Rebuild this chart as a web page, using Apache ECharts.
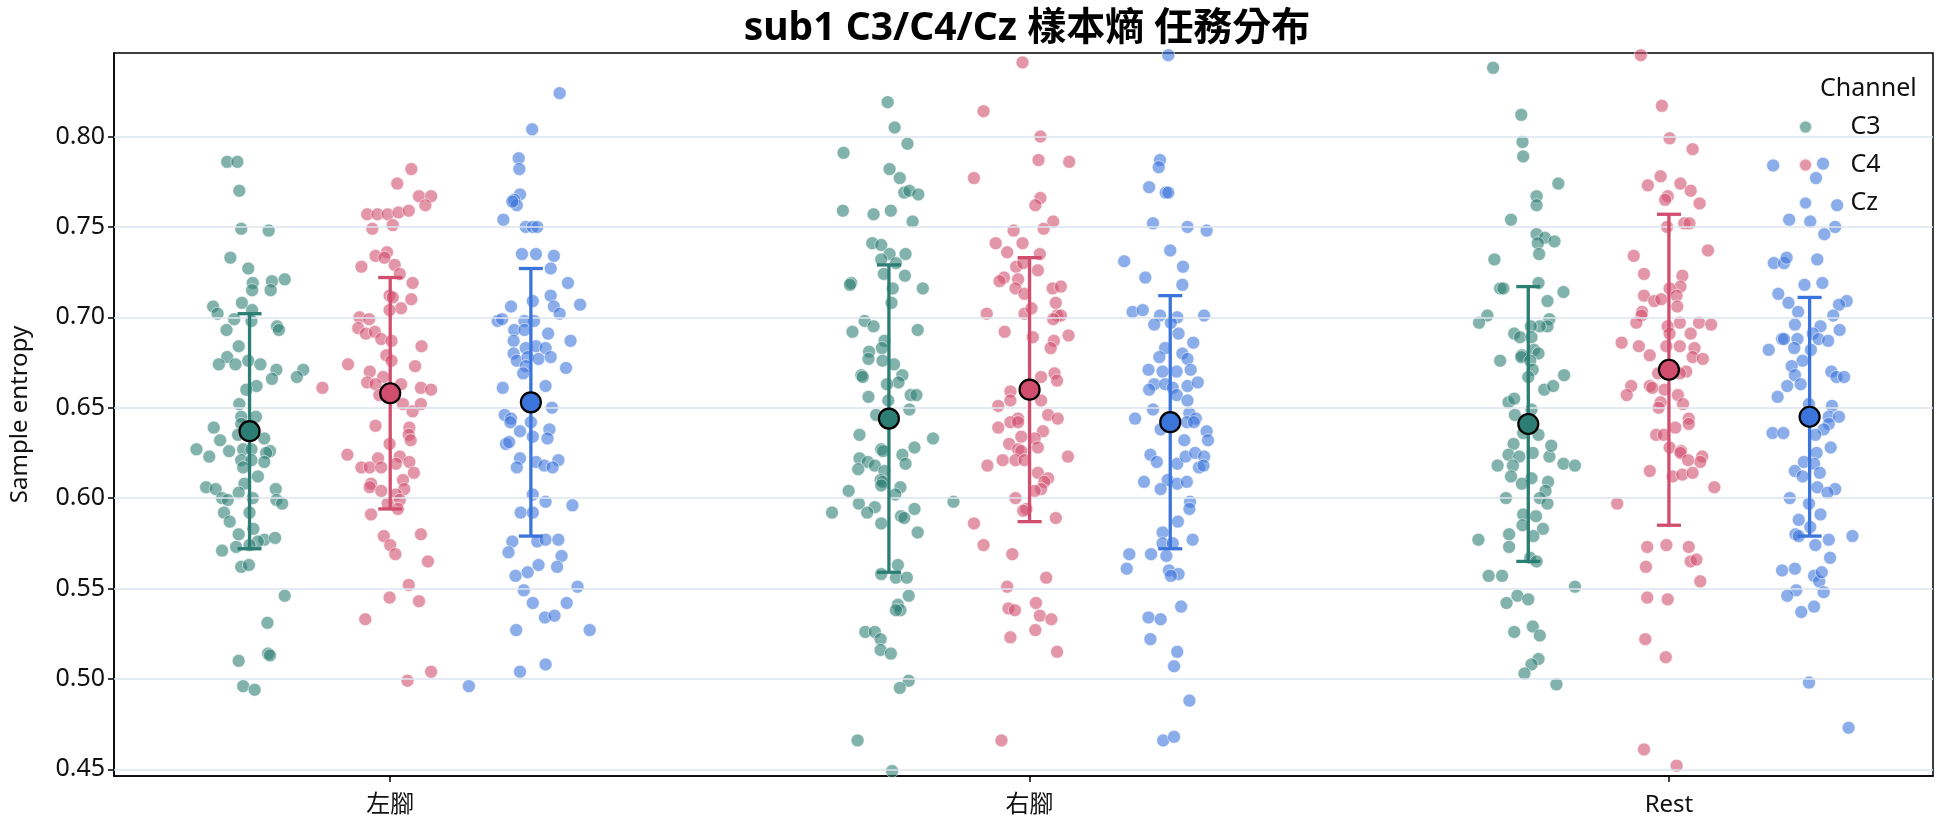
<!DOCTYPE html>
<html>
<head>
<meta charset="utf-8">
<title>sub1 C3/C4/Cz 樣本熵 任務分布</title>
<script src="https://cdn.jsdelivr.net/npm/echarts@6/dist/echarts.min.js"></script>
<style>
  html, body { margin: 0; padding: 0; background: #fff; }
  #chart { width: 1944px; height: 827px; }
</style>
</head>
<body>
<div id="chart"></div>
<script>
// ===== data =====
const categories = ["左腳", "右腳", "Rest"];
const channels = ["C3", "C4", "Cz"];
const yTicks = [0.45, 0.50, 0.55, 0.60, 0.65, 0.70, 0.75, 0.80];

// mean and sd per category, one array per channel
const meanC3 = [0.637, 0.644, 0.641];
const sdC3 = [0.065, 0.085, 0.076];
const meanC4 = [0.658, 0.660, 0.671];
const sdC4 = [0.064, 0.073, 0.086];
const meanCz = [0.653, 0.642, 0.645];
const sdCz = [0.074, 0.070, 0.066];

// trial values (and their horizontal jitter, in category units)
const c3Left = [
  0.786, 0.786, 0.770, 0.749, 0.748, 0.733, 0.727, 0.719, 0.720, 0.721,
  0.715, 0.715, 0.708, 0.704, 0.706, 0.702, 0.699, 0.698, 0.695, 0.693,
  0.693, 0.684, 0.678, 0.674, 0.674, 0.676, 0.674, 0.671, 0.666, 0.671,
  0.667, 0.662, 0.660, 0.652, 0.645, 0.645, 0.641, 0.639, 0.632, 0.626,
  0.627, 0.623, 0.635, 0.633, 0.627, 0.627, 0.626, 0.625, 0.621, 0.621,
  0.620, 0.617, 0.612, 0.608, 0.606, 0.605, 0.603, 0.605, 0.600, 0.599,
  0.600, 0.599, 0.597, 0.592, 0.592, 0.587, 0.583, 0.580, 0.577, 0.576,
  0.578, 0.573, 0.574, 0.571, 0.562, 0.563, 0.546, 0.531, 0.514, 0.513,
  0.510, 0.496, 0.494
];
const c3LeftJit = [
  -0.035, -0.019, -0.016, -0.013, 0.030, -0.030, -0.002, 0.005, 0.035, 0.055,
  0.004, 0.033, -0.012, 0.004, -0.057, -0.050, -0.024, 0.003, 0.043, 0.046,
  -0.036, -0.017, -0.035, -0.048, -0.022, -0.002, 0.017, 0.042, 0.035, 0.084,
  0.074, 0.011, -0.005, -0.016, -0.013, 0.010, -0.013, -0.056, -0.046, -0.032,
  -0.083, -0.063, -0.018, 0.023, -0.010, 0.003, 0.032, 0.026, -0.013, 0.003,
  0.023, -0.010, 0.013, -0.008, -0.068, -0.053, -0.017, 0.041, -0.043, -0.034,
  0.005, 0.042, 0.051, -0.040, 0.000, -0.031, 0.006, -0.017, 0.023, 0.013,
  0.040, -0.021, 0.000, -0.043, -0.013, -0.001, 0.055, 0.028, 0.029, 0.032,
  -0.017, -0.010, 0.008
];

const c4Left = [
  0.661, 0.782, 0.774, 0.767, 0.767, 0.762, 0.757, 0.757, 0.757, 0.758,
  0.759, 0.749, 0.751, 0.734, 0.736, 0.733, 0.729, 0.728, 0.724, 0.719,
  0.712, 0.711, 0.710, 0.705, 0.704, 0.700, 0.699, 0.694, 0.691, 0.692,
  0.688, 0.687, 0.684, 0.679, 0.676, 0.674, 0.673, 0.670, 0.667, 0.664,
  0.663, 0.663, 0.661, 0.660, 0.657, 0.652, 0.648, 0.652, 0.639, 0.635,
  0.632, 0.640, 0.630, 0.624, 0.622, 0.623, 0.620, 0.617, 0.617, 0.617,
  0.619, 0.614, 0.610, 0.605, 0.608, 0.606, 0.604, 0.602, 0.599, 0.597,
  0.594, 0.591, 0.579, 0.574, 0.580, 0.569, 0.565, 0.552, 0.545, 0.543,
  0.533, 0.504, 0.499
];
const c4LeftJit = [
  -0.106, 0.033, 0.011, 0.045, 0.064, 0.055, -0.036, -0.020, -0.004, 0.013,
  0.029, -0.028, 0.004, -0.023, -0.005, -0.009, 0.007, -0.045, 0.015, 0.035,
  -0.001, 0.004, 0.033, 0.017, -0.001, -0.048, -0.033, -0.050, -0.038, -0.024,
  -0.014, 0.002, 0.049, -0.006, 0.002, -0.066, 0.039, -0.032, -0.011, -0.036,
  -0.023, 0.017, 0.048, 0.064, -0.017, 0.020, 0.035, 0.048, 0.030, 0.029,
  0.032, -0.023, -0.001, -0.067, -0.019, 0.015, 0.030, -0.045, -0.032, -0.014,
  0.009, 0.037, 0.020, 0.022, -0.030, -0.032, -0.014, 0.009, 0.015, -0.004,
  0.012, -0.030, -0.010, 0.000, 0.048, 0.008, 0.059, 0.029, -0.001, 0.045,
  -0.039, 0.064, 0.027
];

const czLeft = [
  0.824, 0.804, 0.788, 0.782, 0.768, 0.765, 0.762, 0.764, 0.754, 0.750,
  0.750, 0.750, 0.735, 0.735, 0.734, 0.727, 0.719, 0.712, 0.706, 0.709,
  0.706, 0.702, 0.707, 0.698, 0.698, 0.698, 0.699, 0.693, 0.693, 0.691,
  0.687, 0.687, 0.683, 0.684, 0.683, 0.680, 0.676, 0.678, 0.677, 0.678,
  0.673, 0.672, 0.669, 0.662, 0.661, 0.650, 0.646, 0.644, 0.642, 0.637,
  0.642, 0.638, 0.633, 0.634, 0.630, 0.631, 0.622, 0.621, 0.617, 0.620,
  0.618, 0.617, 0.602, 0.598, 0.596, 0.592, 0.592, 0.576, 0.576, 0.577,
  0.577, 0.570, 0.568, 0.563, 0.562, 0.557, 0.559, 0.551, 0.549, 0.542,
  0.542, 0.534, 0.535, 0.527, 0.527, 0.508, 0.504, 0.496
];
const czLeftJit = [
  0.045, 0.002, -0.019, -0.018, -0.017, -0.026, -0.022, -0.029, -0.043, -0.008,
  0.003, 0.010, -0.014, 0.008, 0.036, 0.031, 0.058, 0.031, -0.031, 0.003,
  0.036, 0.045, 0.077, 0.005, -0.010, -0.052, -0.045, -0.026, -0.010, 0.027,
  -0.027, 0.062, -0.008, 0.008, 0.023, -0.027, -0.022, -0.005, 0.012, 0.031,
  -0.008, 0.055, -0.012, 0.023, -0.044, 0.033, -0.041, -0.031, -0.032, -0.017,
  0.000, 0.029, 0.026, 0.003, -0.039, -0.034, -0.017, 0.043, -0.022, 0.008,
  0.021, 0.034, 0.003, 0.023, 0.065, -0.016, 0.003, -0.029, 0.010, 0.023,
  0.043, -0.035, 0.048, 0.012, 0.041, -0.024, -0.005, 0.073, -0.011, 0.003,
  0.056, 0.022, 0.037, -0.023, 0.092, 0.023, -0.017, -0.097
];

const c3Right = [
  0.819, 0.805, 0.791, 0.796, 0.782, 0.777, 0.769, 0.770, 0.768, 0.759,
  0.757, 0.759, 0.753, 0.741, 0.740, 0.735, 0.735, 0.732, 0.730, 0.724,
  0.723, 0.719, 0.718, 0.716, 0.716, 0.708, 0.698, 0.695, 0.692, 0.693,
  0.687, 0.683, 0.681, 0.677, 0.676, 0.674, 0.668, 0.667, 0.668, 0.664,
  0.663, 0.656, 0.657, 0.657, 0.654, 0.646, 0.645, 0.649, 0.635, 0.633,
  0.628, 0.627, 0.626, 0.624, 0.619, 0.622, 0.620, 0.616, 0.618, 0.615,
  0.610, 0.609, 0.607, 0.604, 0.606, 0.602, 0.597, 0.598, 0.595, 0.592,
  0.592, 0.594, 0.590, 0.589, 0.586, 0.581, 0.563, 0.558, 0.556, 0.556,
  0.546, 0.541, 0.538, 0.538, 0.526, 0.526, 0.522, 0.516, 0.514, 0.499,
  0.495, 0.466, 0.449
];
const c3RightJit = [
  -0.002, 0.009, -0.071, 0.029, 0.001, 0.017, 0.024, 0.032, 0.046, -0.072,
  -0.024, 0.003, 0.037, -0.026, -0.012, 0.001, 0.026, -0.012, 0.011, -0.008,
  0.025, -0.059, -0.061, 0.006, 0.053, 0.004, -0.038, -0.024, -0.057, 0.045,
  -0.007, -0.011, -0.031, -0.032, -0.010, 0.008, -0.043, -0.041, 0.021, 0.015,
  -0.003, -0.032, 0.034, 0.043, -0.001, -0.020, -0.004, 0.032, -0.046, 0.069,
  0.040, -0.012, -0.009, 0.021, 0.026, -0.046, -0.033, -0.048, -0.022, -0.007,
  -0.013, -0.010, -0.012, -0.063, 0.018, 0.010, -0.047, 0.101, -0.022, -0.034,
  -0.089, 0.040, 0.019, 0.024, -0.012, 0.045, 0.014, -0.012, 0.011, 0.028,
  0.031, 0.014, 0.018, 0.011, -0.037, -0.022, -0.013, -0.013, 0.003, 0.031,
  0.017, -0.049, 0.005
];

const c4Right = [
  0.841, 0.814, 0.800, 0.787, 0.786, 0.777, 0.766, 0.762, 0.753, 0.748,
  0.749, 0.741, 0.741, 0.736, 0.735, 0.728, 0.730, 0.726, 0.722, 0.720,
  0.721, 0.716, 0.713, 0.716, 0.717, 0.708, 0.701, 0.701, 0.699, 0.702,
  0.702, 0.705, 0.692, 0.690, 0.689, 0.687, 0.683, 0.669, 0.665, 0.667,
  0.659, 0.654, 0.651, 0.654, 0.644, 0.646, 0.644, 0.639, 0.642, 0.642,
  0.637, 0.633, 0.634, 0.630, 0.627, 0.626, 0.628, 0.621, 0.621, 0.621,
  0.618, 0.623, 0.614, 0.611, 0.609, 0.605, 0.604, 0.600, 0.594, 0.593,
  0.589, 0.586, 0.574, 0.569, 0.556, 0.551, 0.542, 0.539, 0.538, 0.535,
  0.533, 0.527, 0.523, 0.515, 0.466
];
const c4RightJit = [
  -0.011, -0.072, 0.017, 0.014, 0.062, -0.087, 0.017, 0.009, 0.037, -0.025,
  0.022, -0.053, -0.011, -0.035, 0.016, -0.021, -0.010, 0.013, -0.040, -0.047,
  -0.018, -0.022, -0.008, 0.036, 0.049, 0.041, 0.043, 0.049, 0.037, -0.067,
  -0.008, 0.003, -0.039, 0.061, 0.005, 0.038, 0.033, 0.039, 0.043, 0.018,
  -0.030, -0.030, -0.049, 0.018, -0.018, 0.029, 0.044, -0.049, -0.030, -0.018,
  0.021, 0.008, -0.013, -0.032, -0.018, -0.013, 0.013, -0.042, -0.022, -0.008,
  -0.066, 0.060, 0.013, 0.029, 0.023, 0.018, 0.008, -0.022, -0.005, -0.010,
  0.041, -0.087, -0.072, -0.027, 0.026, -0.035, 0.010, -0.033, -0.023, 0.016,
  0.034, 0.009, -0.030, 0.043, -0.044
];

const czRight = [
  0.845, 0.787, 0.783, 0.772, 0.769, 0.769, 0.752, 0.750, 0.748, 0.737,
  0.731, 0.728, 0.722, 0.718, 0.703, 0.704, 0.701, 0.700, 0.701, 0.696,
  0.697, 0.691, 0.686, 0.683, 0.678, 0.680, 0.677, 0.671, 0.670, 0.670,
  0.671, 0.663, 0.660, 0.663, 0.661, 0.662, 0.664, 0.657, 0.654, 0.649,
  0.644, 0.647, 0.644, 0.638, 0.642, 0.642, 0.637, 0.632, 0.632, 0.624,
  0.620, 0.619, 0.623, 0.625, 0.623, 0.617, 0.618, 0.609, 0.610, 0.608,
  0.609, 0.605, 0.598, 0.594, 0.587, 0.581, 0.575, 0.575, 0.577, 0.569,
  0.569, 0.568, 0.561, 0.560, 0.558, 0.557, 0.540, 0.534, 0.533, 0.522,
  0.515, 0.507, 0.488, 0.466, 0.468
];
const czRightJit = [
  -0.003, -0.016, -0.018, -0.033, -0.007, -0.003, -0.027, 0.027, 0.057, 0.000,
  -0.072, 0.020, -0.039, 0.019, -0.059, -0.043, -0.016, 0.011, 0.053, -0.025,
  0.001, 0.013, 0.036, -0.008, -0.017, 0.019, 0.027, -0.034, -0.012, 0.010,
  0.032, -0.025, -0.033, -0.008, 0.004, 0.027, 0.043, 0.010, 0.027, -0.027,
  -0.055, 0.030, 0.040, -0.015, 0.026, 0.037, 0.057, 0.059, 0.022, -0.031,
  -0.021, 0.011, 0.024, 0.039, 0.053, 0.045, 0.052, -0.041, -0.004, 0.011,
  0.026, -0.015, 0.031, 0.030, 0.012, -0.012, -0.012, 0.004, 0.035, -0.064,
  -0.030, -0.006, -0.068, -0.002, 0.013, 0.001, 0.017, -0.034, -0.015, -0.031,
  0.011, 0.006, 0.030, -0.011, 0.006
];

const c3Rest = [
  0.838, 0.812, 0.797, 0.789, 0.774, 0.767, 0.762, 0.754, 0.746, 0.744,
  0.742, 0.741, 0.735, 0.732, 0.719, 0.716, 0.716, 0.714, 0.709, 0.701,
  0.697, 0.699, 0.695, 0.695, 0.695, 0.691, 0.689, 0.689, 0.679, 0.678,
  0.682, 0.680, 0.676, 0.676, 0.671, 0.667, 0.668, 0.660, 0.662, 0.653,
  0.655, 0.646, 0.649, 0.636, 0.635, 0.630, 0.624, 0.623, 0.618, 0.618,
  0.623, 0.629, 0.625, 0.619, 0.618, 0.612, 0.611, 0.608, 0.609, 0.604,
  0.600, 0.600, 0.597, 0.591, 0.590, 0.585, 0.583, 0.580, 0.579, 0.577,
  0.573, 0.567, 0.565, 0.557, 0.557, 0.551, 0.546, 0.544, 0.542, 0.529,
  0.524, 0.526, 0.511, 0.508, 0.503, 0.497
];
const c3RestJit = [
  -0.055, -0.011, -0.009, -0.008, 0.047, 0.013, 0.013, -0.027, 0.013, 0.026,
  0.041, 0.015, 0.017, -0.053, 0.016, -0.044, -0.039, 0.055, 0.030, -0.064,
  -0.077, 0.033, 0.030, 0.018, 0.004, -0.022, -0.013, 0.005, -0.010, -0.011,
  0.009, 0.016, -0.044, 0.003, 0.007, 0.000, 0.056, 0.025, 0.039, -0.031,
  -0.022, -0.021, 0.005, -0.008, 0.016, -0.023, -0.031, -0.014, -0.024, -0.048,
  0.033, 0.036, 0.007, 0.055, 0.073, -0.027, 0.005, -0.010, 0.031, 0.027,
  0.018, -0.035, 0.030, -0.008, 0.012, -0.009, 0.023, -0.030, 0.008, -0.078,
  -0.030, 0.003, 0.013, -0.062, -0.041, 0.073, -0.017, 0.000, -0.034, 0.007,
  0.018, -0.022, 0.016, 0.005, -0.006, 0.044
];

const c4Rest = [
  0.845, 0.817, 0.799, 0.793, 0.778, 0.773, 0.774, 0.770, 0.767, 0.765,
  0.763, 0.752, 0.752, 0.750, 0.737, 0.734, 0.724, 0.723, 0.717, 0.716,
  0.712, 0.709, 0.710, 0.712, 0.706, 0.703, 0.701, 0.697, 0.695, 0.697,
  0.697, 0.696, 0.691, 0.691, 0.686, 0.684, 0.684, 0.684, 0.683, 0.679,
  0.678, 0.677, 0.670, 0.669, 0.669, 0.662, 0.657, 0.662, 0.661, 0.660,
  0.657, 0.652, 0.653, 0.650, 0.644, 0.641, 0.639, 0.635, 0.635, 0.628,
  0.626, 0.625, 0.623, 0.620, 0.621, 0.615, 0.612, 0.613, 0.614, 0.606,
  0.597, 0.573, 0.574, 0.573, 0.562, 0.565, 0.566, 0.554, 0.545, 0.544,
  0.522, 0.512, 0.461, 0.452
];
const c4RestJit = [
  -0.044, -0.011, 0.001, 0.037, -0.013, -0.033, 0.018, 0.034, -0.002, -0.006,
  0.048, 0.024, 0.032, -0.003, 0.061, -0.055, -0.039, 0.021, 0.018, 0.001,
  -0.039, -0.023, -0.012, 0.012, 0.013, -0.042, -0.043, -0.051, -0.002, 0.017,
  0.047, 0.066, 0.034, 0.001, -0.074, -0.047, -0.004, 0.017, 0.040, -0.030,
  0.037, 0.053, 0.027, -0.017, 0.017, -0.059, -0.066, -0.030, -0.026, -0.007,
  0.014, 0.022, -0.013, -0.016, 0.031, 0.031, 0.010, -0.020, -0.008, 0.001,
  0.019, 0.018, 0.052, 0.049, 0.030, -0.030, 0.006, 0.021, 0.037, 0.071,
  -0.081, -0.034, -0.004, 0.031, -0.036, 0.034, 0.043, 0.049, -0.034, -0.002,
  -0.037, -0.005, -0.039, 0.012
];

const czRest = [
  0.784, 0.785, 0.777, 0.762, 0.754, 0.753, 0.750, 0.746, 0.730, 0.730,
  0.733, 0.732, 0.718, 0.719, 0.713, 0.708, 0.703, 0.709, 0.707, 0.701,
  0.695, 0.691, 0.696, 0.693, 0.688, 0.688, 0.688, 0.688, 0.687, 0.683,
  0.682, 0.682, 0.676, 0.673, 0.668, 0.663, 0.670, 0.667, 0.667, 0.662,
  0.656, 0.652, 0.651, 0.645, 0.645, 0.636, 0.636, 0.641, 0.638, 0.635,
  0.628, 0.625, 0.620, 0.619, 0.615, 0.612, 0.614, 0.606, 0.605, 0.603,
  0.600, 0.597, 0.588, 0.591, 0.584, 0.580, 0.579, 0.574, 0.577, 0.579,
  0.567, 0.560, 0.561, 0.557, 0.554, 0.559, 0.549, 0.546, 0.548, 0.537,
  0.540, 0.498, 0.473
];
const czRestJit = [
  -0.057, 0.021, 0.010, 0.043, -0.032, 0.001, 0.040, 0.023, -0.056, -0.040,
  -0.036, 0.012, -0.008, 0.020, -0.049, -0.033, -0.018, 0.058, 0.046, 0.037,
  0.017, 0.005, -0.023, 0.047, -0.043, -0.040, -0.019, 0.014, 0.029, -0.024,
  0.002, -0.064, -0.011, -0.028, -0.023, -0.014, 0.034, 0.042, 0.054, -0.035,
  -0.050, -0.001, 0.035, 0.030, 0.046, -0.058, -0.041, 0.030, 0.022, 0.009,
  0.033, 0.011, -0.009, 0.007, -0.023, -0.011, 0.016, 0.012, 0.040, 0.028,
  -0.031, -0.001, -0.017, 0.017, 0.001, -0.022, -0.017, 0.009, 0.030, 0.067,
  0.032, -0.043, -0.023, 0.007, 0.015, 0.019, -0.021, -0.035, 0.022, -0.013,
  0.007, -0.001, 0.061
];

// ===== styling =====
const baseColors = ["#2c7d73", "#d14d6e", "#3b74db"];
const pointColors = ["rgba(44,125,115,0.74)", "rgba(209,77,110,0.74)", "rgba(59,116,219,0.74)"];
const dodge = [-0.22, 0, 0.22];
const FONT = "'Noto Sans', 'Noto Sans CJK TC', sans-serif";

const trials = [
  [c3Left, c3Right, c3Rest],
  [c4Left, c4Right, c4Rest],
  [czLeft, czRight, czRest]
];
const jitters = [
  [c3LeftJit, c3RightJit, c3RestJit],
  [c4LeftJit, c4RightJit, c4RestJit],
  [czLeftJit, czRightJit, czRestJit]
];
const means = [meanC3, meanC4, meanCz];
const sds = [sdC3, sdC4, sdCz];

const chart = echarts.init(document.getElementById("chart"));

const series = [];

// 背景网格线
series.push({
  type: "scatter",
  data: [],
  silent: true,
  z: 0,
  markLine: {
    silent: true,
    symbol: ["none", "none"],
    label: { show: false },
    lineStyle: { color: "#dce5ee", width: 1.6, type: "solid" },
    data: yTicks.map((v) => ({ yAxis: v }))
  }
});

channels.forEach((name, c) => {
  const pts = [];
  categories.forEach((_, i) => {
    trials[c][i].forEach((v, k) => {
      pts.push([i + dodge[c] + (jitters[c][i][k] || 0), v]);
    });
  });
  series.push({
    name,
    type: "scatter",
    data: pts,
    symbolSize: 13,
    z: 2,
    itemStyle: { color: pointColors[c], borderColor: "rgba(255,255,255,0.85)", borderWidth: 0.8 }
  });
});

channels.forEach((name, c) => {
  const bars = categories.map((_, i) => [i + dodge[c], means[c][i] - sds[c][i], means[c][i] + sds[c][i]]);
  series.push({
    name,
    type: "custom",
    z: 5,
    data: bars,
    encode: { x: 0, y: [1, 2] },
    renderItem: (params, api) => {
      const x = api.value(0);
      const top = api.coord([x, api.value(2)]);
      const bot = api.coord([x, api.value(1)]);
      const half = 12;
      const style = { stroke: baseColors[c], lineWidth: 3.3 };
      return {
        type: "group",
        children: [
          { type: "line", shape: { x1: top[0], y1: top[1], x2: bot[0], y2: bot[1] }, style },
          { type: "line", shape: { x1: top[0] - half, y1: top[1], x2: top[0] + half, y2: top[1] }, style },
          { type: "line", shape: { x1: bot[0] - half, y1: bot[1], x2: bot[0] + half, y2: bot[1] }, style }
        ]
      };
    }
  });
  series.push({
    name,
    type: "scatter",
    z: 6,
    symbolSize: 20,
    data: categories.map((_, i) => [i + dodge[c], means[c][i]]),
    itemStyle: { color: baseColors[c], borderColor: "#000", borderWidth: 2.2, opacity: 1 }
  });
});

const option = {
  backgroundColor: "#fff",
  animation: false,
  title: [
    {
      text: "sub1 C3/C4/Cz 樣本熵 任務分布",
      left: 1022,
      textAlign: "center",
      top: 4,
      textStyle: { fontFamily: FONT, fontSize: 39, fontWeight: "bold", color: "#000" }
    },
    {
      text: "Channel",
      left: 1815,
      top: 71,
      textStyle: { fontFamily: FONT, fontSize: 25, fontWeight: "normal", color: "#111" }
    }
  ],
  legend: {
    data: channels,
    orient: "vertical",
    align: "left",
    left: 1798,
    top: 113,
    padding: 0,
    icon: "circle",
    itemWidth: 80,
    itemHeight: 13,
    symbolKeepAspect: true,
    itemGap: 10,
    textStyle: { fontFamily: FONT, fontSize: 25, color: "#111", lineHeight: 28 }
  },
  grid: {
    left: 110,
    right: 11,
    top: 53,
    bottom: 51,
    show: true,
    borderColor: "#000",
    borderWidth: 1.5,
    backgroundColor: "transparent"
  },
  xAxis: {
    type: "value",
    min: -0.432,
    max: 2.413,
    splitLine: { show: false },
    axisLine: { show: true, onZero: false, lineStyle: { color: "#000", width: 1.5 } },
    axisTick: { show: true, customValues: [0, 1, 2], length: 6, lineStyle: { color: "#000", width: 1.5 } },
    axisLabel: {
      customValues: [0, 1, 2],
      formatter: (v) => categories[Math.round(v)],
      fontFamily: FONT,
      fontSize: 24,
      color: "#111",
      margin: 17
    }
  },
  yAxis: {
    type: "value",
    min: 0.4463,
    max: 0.8462,
    name: "Sample entropy",
    nameLocation: "middle",
    nameGap: 82,
    nameTextStyle: { fontFamily: FONT, fontSize: 24, color: "#111" },
    splitLine: { show: false },
    axisLine: { show: true, onZero: false, lineStyle: { color: "#000", width: 1.5 } },
    axisTick: { show: true, customValues: yTicks, length: 6, lineStyle: { color: "#000", width: 1.5 } },
    axisLabel: {
      customValues: yTicks,
      formatter: (v) => v.toFixed(2),
      fontFamily: FONT,
      fontSize: 25,
      color: "#111",
      margin: 9
    }
  },
  series
};

chart.setOption(option);
</script>
</body>
</html>
